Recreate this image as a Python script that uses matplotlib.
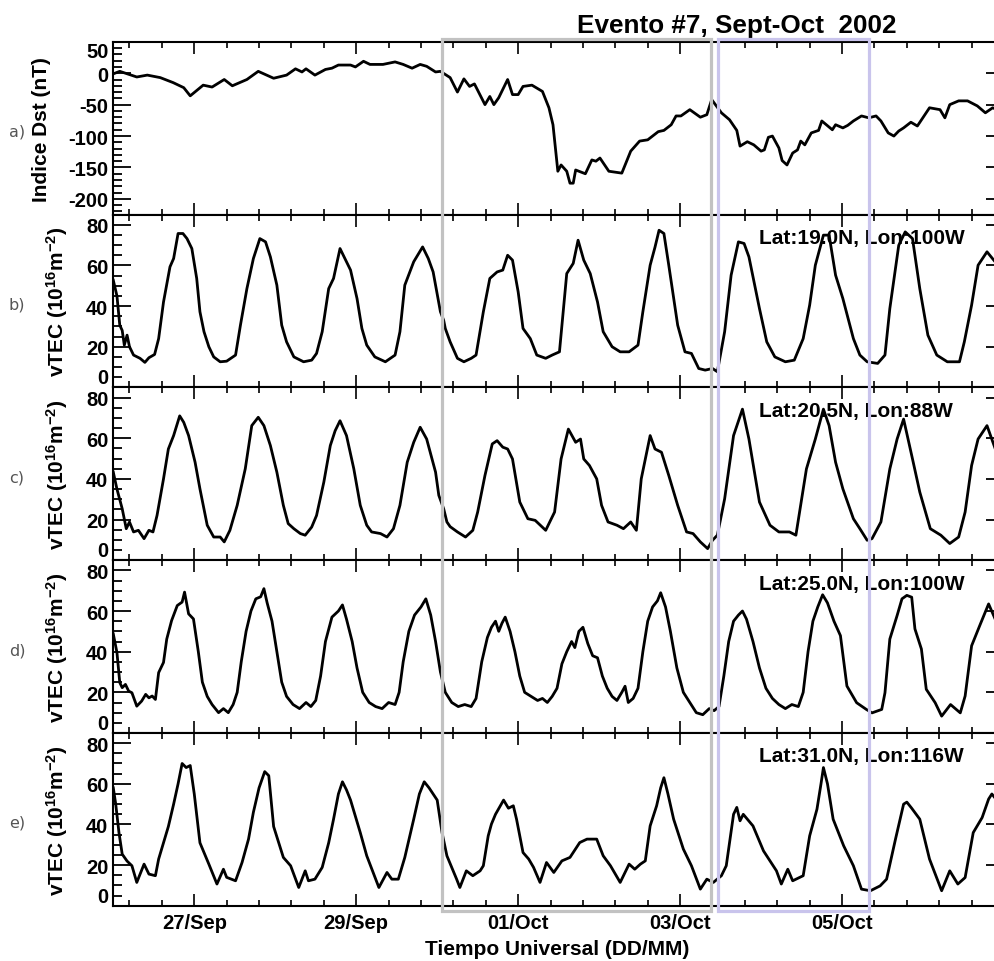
import numpy as np
import matplotlib
matplotlib.use("Agg")
import matplotlib.pyplot as plt
from matplotlib.patches import Rectangle
from matplotlib.ticker import FixedLocator

# ---------------- data (time in days since 26/Sep/2002 00 UT) ----------------
dst = np.array([
    (0.00, -1), (0.08, 3), (0.29, -6), (0.42, -3), (0.58, -7), (0.74, -15), (0.87, -23),
    (0.95, -36), (1.11, -19), (1.22, -22), (1.37, -10), (1.47, -20), (1.65, -10), (1.79, 3),
    (1.98, -8), (2.14, -3), (2.25, 7), (2.33, 2), (2.38, 7), (2.49, -3), (2.62, 6), (2.70, 8),
    (2.78, 13), (2.93, 13), (2.99, 10), (3.09, 19), (3.17, 14), (3.33, 14), (3.48, 18),
    (3.58, 14), (3.69, 8), (3.79, 14), (3.87, 11), (3.98, 2), (4.04, 3), (4.16, -7),
    (4.25, -30), (4.33, -9), (4.40, -21), (4.46, -17), (4.59, -50), (4.65, -37), (4.70, -50),
    (4.76, -39), (4.87, -10), (4.93, -34), (5.00, -34), (5.06, -21), (5.17, -19), (5.30, -29),
    (5.38, -55), (5.43, -82), (5.49, -156), (5.53, -146), (5.60, -156), (5.64, -175),
    (5.68, -175), (5.71, -154), (5.83, -160), (5.91, -138), (5.96, -140), (6.01, -135),
    (6.12, -156), (6.28, -159), (6.39, -124), (6.50, -108), (6.60, -106), (6.73, -93),
    (6.80, -91), (6.89, -82), (6.95, -68), (7.01, -68), (7.12, -58), (7.25, -70), (7.33, -66),
    (7.39, -42), (7.51, -63), (7.61, -74), (7.70, -91), (7.74, -116), (7.83, -109),
    (7.91, -114), (8.00, -124), (8.04, -122), (8.09, -102), (8.14, -100), (8.22, -119),
    (8.26, -139), (8.32, -146), (8.39, -127), (8.45, -122), (8.49, -108), (8.54, -114),
    (8.62, -95), (8.71, -91), (8.75, -76), (8.88, -90), (8.92, -82), (9.01, -87), (9.07, -83),
    (9.14, -76), (9.24, -68), (9.33, -71), (9.42, -68), (9.48, -76), (9.57, -95), (9.64, -100),
    (9.70, -92), (9.76, -87), (9.85, -78), (9.93, -84), (10.08, -55), (10.21, -58),
    (10.27, -71), (10.33, -50), (10.44, -44), (10.55, -44), (10.67, -52), (10.77, -63),
    (10.86, -55), (10.95, -60),
])

tec_19n_100w = np.array([
    (0.00, 52.7), (0.045, 45), (0.08, 30.6), (0.11, 28), (0.136, 20.8), (0.17, 25.7),
    (0.20, 20), (0.25, 15.9), (0.33, 14.3), (0.39, 12.3), (0.44, 14.6), (0.51, 16.2),
    (0.56, 24), (0.62, 42), (0.70, 59.3), (0.745, 63.4), (0.80, 75.7), (0.86, 75.7),
    (0.91, 73.2), (0.97, 68.3), (1.03, 53.6), (1.07, 37.2), (1.12, 27.4), (1.18, 20),
    (1.24, 15), (1.32, 12.6), (1.40, 12.9), (1.51, 15.9), (1.57, 30.6), (1.65, 48.6),
    (1.73, 63.4), (1.81, 73.2), (1.88, 71.6), (1.94, 64.2), (2.02, 50.3), (2.08, 30.6),
    (2.14, 22.4), (2.23, 15), (2.35, 12.6), (2.45, 13.4), (2.51, 16.7), (2.58, 27.4),
    (2.66, 48.6), (2.72, 53.6), (2.80, 68.3), (2.86, 63.4), (2.93, 57.7), (3.01, 43.7),
    (3.07, 29), (3.13, 20.8), (3.23, 15), (3.36, 12.6), (3.48, 15.9), (3.54, 27.4),
    (3.60, 50.3), (3.71, 61.8), (3.82, 69.1), (3.89, 63.4), (3.95, 56.8), (4.04, 37.2),
    (4.08, 33), (4.10, 29), (4.16, 22.4), (4.25, 14.3), (4.33, 12.6), (4.42, 14.3),
    (4.48, 15.9), (4.57, 37.2), (4.65, 53.6), (4.74, 56.8), (4.81, 57.7), (4.87, 65),
    (4.93, 62.6), (5.00, 47), (5.06, 29), (5.15, 24), (5.23, 15.9), (5.34, 14.3),
    (5.42, 15.9), (5.51, 17.5), (5.60, 56), (5.68, 61), (5.74, 72.4), (5.81, 62.6),
    (5.89, 56), (5.98, 42), (6.05, 27.4), (6.16, 20), (6.26, 17.5), (6.37, 17.5),
    (6.48, 20.8), (6.54, 37.2), (6.63, 60.1), (6.69, 69), (6.74, 77.3), (6.80, 75.7),
    (6.86, 60.1), (6.97, 30.6), (7.06, 17.5), (7.14, 16.7), (7.23, 9.3), (7.31, 8.5),
    (7.40, 9.3), (7.46, 7.7), (7.55, 27.4), (7.63, 55.2), (7.72, 71.6), (7.79, 70.8),
    (7.85, 64.2), (7.98, 38.8), (8.07, 22.4), (8.17, 15), (8.30, 12.6), (8.41, 13.4),
    (8.52, 24), (8.60, 40.5), (8.67, 60.1), (8.77, 74.9), (8.84, 74.9), (8.92, 55.2),
    (9.01, 43.7), (9.14, 24), (9.22, 15.9), (9.31, 12.6), (9.44, 11.8), (9.53, 15.9),
    (9.59, 38.8), (9.70, 69.9), (9.78, 76.5), (9.87, 73.2), (9.96, 48.6), (10.06, 25.7),
    (10.17, 15.9), (10.30, 12.6), (10.45, 12.6), (10.51, 22.4), (10.60, 40.5),
    (10.68, 60.1), (10.79, 66.7), (10.89, 61.8), (10.95, 58),
])

tec_20n_88w = np.array([
    (0.00, 43.3), (0.045, 35), (0.11, 25.3), (0.16, 15.5), (0.20, 18.8), (0.25, 13.9),
    (0.31, 14.7), (0.38, 10.6), (0.44, 14.7), (0.49, 13.9), (0.54, 22), (0.62, 40),
    (0.68, 54.7), (0.745, 61.3), (0.82, 71), (0.87, 67.8), (0.93, 61.3), (1.01, 48.2),
    (1.07, 35.1), (1.16, 17.2), (1.24, 11.4), (1.32, 11.4), (1.37, 9), (1.44, 14.7),
    (1.53, 27), (1.63, 45), (1.71, 66.2), (1.79, 70.3), (1.86, 66.2), (1.94, 56.4),
    (2.02, 43.3), (2.10, 27), (2.16, 18), (2.23, 15.5), (2.31, 13.1), (2.37, 12.3),
    (2.45, 16.3), (2.51, 22), (2.60, 38.4), (2.68, 56.4), (2.74, 63.7), (2.80, 68.6),
    (2.88, 61.3), (2.97, 45), (3.05, 27), (3.13, 17.2), (3.19, 13.9), (3.30, 13.1),
    (3.38, 11.4), (3.46, 15.5), (3.54, 27), (3.63, 48.2), (3.71, 58), (3.79, 65.4),
    (3.87, 59.6), (3.98, 43.3), (4.02, 31.9), (4.08, 25.3), (4.12, 18.8), (4.16, 16.5),
    (4.25, 13.9), (4.35, 11.4), (4.44, 14.7), (4.50, 23.7), (4.59, 41.7), (4.68, 57.2),
    (4.74, 58.8), (4.81, 55.6), (4.87, 54.7), (4.93, 49.8), (5.02, 28.6), (5.12, 20.4),
    (5.21, 19.6), (5.34, 14.7), (5.45, 23.7), (5.53, 49.8), (5.62, 64.5), (5.71, 58),
    (5.77, 59.6), (5.81, 49.8), (5.88, 46.6), (5.97, 40), (6.03, 27), (6.11, 18.8),
    (6.22, 17.2), (6.30, 15.5), (6.39, 18.8), (6.46, 14.7), (6.52, 40), (6.63, 61.3),
    (6.69, 54.7), (6.77, 53.1), (6.86, 41.7), (6.97, 27), (7.08, 13.9), (7.16, 13.1),
    (7.25, 9), (7.34, 5.7), (7.40, 9.8), (7.46, 12.3), (7.55, 30.2), (7.66, 61.3),
    (7.77, 74.3), (7.85, 59.6), (7.98, 28.6), (8.11, 17.2), (8.22, 13.9), (8.35, 13.9),
    (8.43, 12.3), (8.56, 44.9), (8.67, 59.6), (8.77, 74.3), (8.84, 66.2), (8.92, 48.2),
    (9.01, 35.1), (9.14, 20.4), (9.22, 15.5), (9.31, 9.8), (9.37, 10.6), (9.48, 18.8),
    (9.59, 44.9), (9.68, 59.6), (9.76, 69.4), (9.87, 49.8), (9.96, 33.5), (10.09, 15.5),
    (10.22, 12.3), (10.33, 8.2), (10.44, 11.4), (10.52, 23.7), (10.60, 46.6),
    (10.68, 59.6), (10.79, 66.2), (10.89, 55), (10.95, 50),
])

tec_25n_100w = np.array([
    (0.00, 48.7), (0.045, 39.6), (0.08, 24.8), (0.11, 22.3), (0.15, 23.9), (0.19, 20.6),
    (0.23, 19.8), (0.29, 13.2), (0.35, 15.7), (0.40, 19), (0.44, 17.3), (0.48, 18.2),
    (0.52, 16.5), (0.56, 29.7), (0.62, 34.7), (0.66, 46.2), (0.72, 55.3), (0.79, 62.7),
    (0.85, 64.4), (0.88, 69.3), (0.93, 58.6), (0.99, 56.1), (1.05, 40), (1.10, 25),
    (1.16, 18), (1.22, 14), (1.30, 10), (1.36, 12), (1.42, 10), (1.48, 14), (1.53, 20),
    (1.58, 35), (1.64, 50), (1.70, 60), (1.76, 66), (1.82, 67), (1.86, 71), (1.90, 64),
    (1.96, 55), (2.02, 40), (2.08, 25), (2.14, 18), (2.22, 14), (2.30, 12), (2.38, 15),
    (2.44, 13), (2.50, 16), (2.56, 28), (2.62, 45), (2.70, 57), (2.78, 60), (2.83, 63),
    (2.88, 56), (2.95, 45), (3.01, 32), (3.08, 20), (3.16, 15), (3.24, 13), (3.32, 12),
    (3.40, 15), (3.48, 14), (3.53, 20), (3.58, 35), (3.65, 50), (3.72, 58), (3.80, 62),
    (3.86, 66), (3.92, 58), (3.98, 45), (4.04, 30), (4.10, 20), (4.18, 15), (4.26, 13),
    (4.34, 14), (4.42, 13), (4.48, 17), (4.55, 35), (4.62, 47), (4.67, 52), (4.72, 55),
    (4.76, 50), (4.80, 54), (4.84, 57), (4.90, 50), (4.96, 40), (5.02, 28), (5.08, 20),
    (5.16, 18), (5.24, 16), (5.30, 17), (5.36, 15), (5.42, 18), (5.48, 22), (5.54, 34),
    (5.60, 40), (5.66, 45), (5.70, 42), (5.75, 50), (5.80, 52), (5.86, 44), (5.92, 38),
    (5.98, 37), (6.04, 28), (6.10, 22), (6.16, 18), (6.22, 16), (6.28, 20), (6.32, 23),
    (6.36, 15), (6.42, 17), (6.48, 22), (6.54, 40), (6.60, 55), (6.66, 62), (6.72, 65),
    (6.76, 69), (6.82, 62), (6.88, 50), (6.96, 32), (7.04, 20), (7.12, 15), (7.20, 10),
    (7.28, 9), (7.36, 12), (7.42, 11), (7.48, 13), (7.54, 28), (7.60, 45), (7.66, 55),
    (7.72, 58), (7.77, 60), (7.82, 56), (7.90, 45), (7.98, 32), (8.06, 22), (8.14, 17),
    (8.22, 14), (8.30, 12), (8.38, 14), (8.46, 13), (8.52, 20), (8.58, 40), (8.64, 55),
    (8.70, 62), (8.76, 68), (8.82, 64), (8.90, 55), (8.98, 47.9), (9.06, 23.1),
    (9.18, 14.9), (9.30, 11.6), (9.37, 9.9), (9.49, 11.6), (9.53, 19.8), (9.59, 46.2),
    (9.68, 57.8), (9.74, 66), (9.80, 67.7), (9.86, 66.8), (9.90, 51.2), (9.98, 41.3),
    (10.04, 21.5), (10.15, 14.9), (10.23, 8.3), (10.34, 14), (10.46, 9.9), (10.52, 18.2),
    (10.60, 42.9), (10.70, 52.8), (10.81, 63.5), (10.89, 56.1), (10.95, 52),
])

tec_31n_116w = np.array([
    (0.00, 58), (0.03, 50), (0.07, 36), (0.11, 25.4), (0.17, 22), (0.23, 19.7),
    (0.29, 11.5), (0.38, 20.5), (0.44, 15.6), (0.52, 14.8), (0.56, 23), (0.62, 31),
    (0.68, 39), (0.745, 50), (0.80, 60), (0.85, 70), (0.90, 68), (0.95, 69), (1.00, 55),
    (1.07, 31), (1.18, 20.5), (1.28, 10.7), (1.36, 18), (1.40, 14), (1.51, 12.3),
    (1.59, 21.3), (1.67, 32.8), (1.73, 46), (1.80, 58), (1.87, 66), (1.92, 64), (1.98, 39),
    (2.10, 23.8), (2.19, 19.7), (2.29, 9), (2.37, 17.2), (2.41, 12.3), (2.49, 13.1),
    (2.58, 18.9), (2.66, 31), (2.72, 42.6), (2.78, 55), (2.83, 61), (2.88, 57), (2.93, 52),
    (3.05, 36), (3.13, 24.6), (3.28, 9), (3.38, 16.4), (3.44, 13.1), (3.52, 13.1),
    (3.60, 23.8), (3.71, 42.6), (3.78, 55), (3.84, 61), (3.90, 58), (4.00, 52), (4.06, 36),
    (4.12, 24.6), (4.24, 13.1), (4.28, 9), (4.36, 17.2), (4.44, 14.8), (4.53, 17.2),
    (4.57, 19.7), (4.63, 34.4), (4.67, 40.2), (4.72, 45), (4.78, 49.2), (4.82, 52),
    (4.88, 48), (4.94, 49.2), (4.98, 42.6), (5.06, 26.2), (5.13, 23), (5.19, 18.9),
    (5.27, 11.5), (5.35, 21.3), (5.44, 16.4), (5.54, 22.1), (5.64, 23.8), (5.76, 31.1),
    (5.85, 32.8), (5.97, 32.8), (6.05, 24.6), (6.14, 19.7), (6.26, 11.5), (6.37, 20.5),
    (6.44, 18), (6.51, 20.5), (6.57, 22.1), (6.63, 39.3), (6.71, 49.2), (6.76, 58),
    (6.80, 63), (6.85, 55), (6.92, 42.6), (7.04, 27.9), (7.14, 19.7), (7.25, 8.2),
    (7.33, 13.1), (7.41, 11.5), (7.51, 14.8), (7.57, 19.7), (7.66, 45), (7.70, 48.4),
    (7.74, 41.8), (7.78, 45), (7.90, 39.3), (8.03, 27), (8.19, 17.2), (8.25, 10.7),
    (8.33, 18), (8.39, 12.3), (8.52, 14.8), (8.60, 34.4), (8.69, 47.5), (8.74, 60),
    (8.77, 68), (8.82, 60), (8.89, 42.6), (9.02, 29.5), (9.14, 19.7), (9.24, 8.2),
    (9.35, 7.4), (9.47, 9.8), (9.55, 13.1), (9.66, 32.8), (9.76, 50), (9.80, 51),
    (9.86, 48), (9.96, 42.6), (10.08, 23), (10.23, 7.4), (10.33, 17.2), (10.43, 10.7),
    (10.52, 13.9), (10.62, 36), (10.73, 43.4), (10.81, 52.5), (10.85, 55), (10.89, 53),
    (10.95, 55),
])

station_labels = ["Lat:19.0N, Lon:100W", "Lat:20.5N, Lon:88W",
                  "Lat:25.0N, Lon:100W", "Lat:31.0N, Lon:116W"]
panel_letters = ["a)", "b)", "c)", "d)", "e)"]
date_ticks = [1, 3, 5, 7, 9]
date_labels = ["27/Sep", "29/Sep", "01/Oct", "03/Oct", "05/Oct"]
dst_ticks = [50, 0, -50, -100, -150, -200]
tec_ticks = [0, 20, 40, 60, 80]

# ---------------- style ----------------
plt.rcParams['font.family'] = ['Liberation Sans', 'DejaVu Sans']
plt.rcParams['font.weight'] = 'bold'
plt.rcParams['axes.unicode_minus'] = False
plt.rcParams['mathtext.fontset'] = 'custom'
plt.rcParams['mathtext.rm'] = 'Liberation Sans:bold'
plt.rcParams['mathtext.it'] = 'Liberation Sans:bold'
plt.rcParams['mathtext.bf'] = 'Liberation Sans:bold'
plt.rcParams['mathtext.sf'] = 'Liberation Sans:bold'

W, H = 995, 962
fig = plt.figure(figsize=(W / 100, H / 100), dpi=100)


def fx(px):
    return px / W


def fy(py):
    return 1 - py / H


left_px, right_px = 113.3, 1004.0
panel_h = 172.8
panel_tops = [42.8 + i * panel_h for i in range(5)]
FS = 14.5

axes = []
for i, top in enumerate(panel_tops):
    ax = fig.add_axes([fx(left_px), fy(top + panel_h),
                       fx(right_px - left_px), panel_h / H])
    ax.set_xlim(0, 11)
    for sp in ax.spines.values():
        sp.set_linewidth(1.5)
    ax.xaxis.set_major_locator(FixedLocator(date_ticks))
    ax.xaxis.set_minor_locator(FixedLocator(np.arange(0.2, 11.0, 0.4)))
    ax.tick_params(axis='x', which='both', direction='in', top=True, bottom=True,
                   width=1.2, labelsize=FS, pad=5)
    ax.tick_params(axis='x', which='major', length=8.6)
    ax.tick_params(axis='x', which='minor', length=4.6)
    ax.tick_params(axis='y', which='both', direction='in', left=True, right=True,
                   width=1.3, labelsize=FS, pad=3.5)
    ax.tick_params(axis='y', which='major', length=13)
    ax.tick_params(axis='y', which='minor', length=6.5)
    if i < 4:
        ax.tick_params(axis='x', labelbottom=False)
    axes.append(ax)

# Dst panel
ax = axes[0]
ax.plot(dst[:, 0], dst[:, 1], color='black', lw=2.0)
ax.set_ylim(-225, 50)
ax.yaxis.set_major_locator(FixedLocator(dst_ticks))
ax.yaxis.set_minor_locator(FixedLocator(np.arange(-220, 51, 10)))
ax.set_yticklabels([str(v) for v in dst_ticks])
for lab in ax.get_yticklabels():
    if lab.get_text() == "50":
        lab.set_va('top')

# TEC panels
tec_series = [tec_19n_100w, tec_20n_88w, tec_25n_100w, tec_31n_116w]
for ax, series, label in zip(axes[1:], tec_series, station_labels):
    ax.plot(series[:, 0], series[:, 1], color='black', lw=2.0)
    ax.set_ylim(0, 85)
    ax.yaxis.set_major_locator(FixedLocator(tec_ticks))
    ax.yaxis.set_minor_locator(FixedLocator(np.arange(0, 86, 5)))
    ax.set_yticklabels([str(v) for v in tec_ticks])
    for lab in ax.get_yticklabels():
        if lab.get_text() == "0":
            lab.set_va('bottom')
    ax.text((759 - left_px) / (right_px - left_px), 1 - 23 / panel_h, label,
            transform=ax.transAxes, ha='left', va='center', fontsize=15,
            fontweight='bold')

axes[-1].set_xticklabels(date_labels)

# axis titles and labels
fig.text(fx(737), fy(26), "Evento #7, Sept-Oct  2002", ha='center', va='center',
         fontsize=18.8, fontweight='bold')
fig.text(fx(557), fy(950), "Tiempo Universal (DD/MM)", ha='center', va='center',
         fontsize=15, fontweight='bold')
fig.text(fx(42), fy(panel_tops[0] + panel_h / 2), "Indice Dst (nT)", rotation=90,
         ha='center', va='center', fontsize=15, fontweight='bold')
for top in panel_tops[1:]:
    fig.text(fx(57), fy(top + panel_h / 2), r"vTEC (10$^{16}$m$^{-2}$)", rotation=90,
             ha='center', va='center', fontsize=15, fontweight='bold')
for top, letter in zip(panel_tops, panel_letters):
    fig.text(fx(17), fy(top + panel_h / 2 + 3), letter, ha='center', va='center',
             fontsize=11.5, fontweight='normal', family='DejaVu Sans', color='#555555')

# highlighted intervals
fig.add_artist(Rectangle((fx(441.7), fy(911.7)), fx(711 - 441.7), (911.7 - 40) / H,
                         transform=fig.transFigure, fill=False, edgecolor='#c2c2c2',
                         lw=2.3, zorder=10))
fig.add_artist(Rectangle((fx(718.3), fy(911.7)), fx(869.3 - 718.3), (911.7 - 39.5) / H,
                         transform=fig.transFigure, fill=False, edgecolor='#c9c4ec',
                         lw=2.3, zorder=10))

fig.savefig("out.png", dpi=100)
